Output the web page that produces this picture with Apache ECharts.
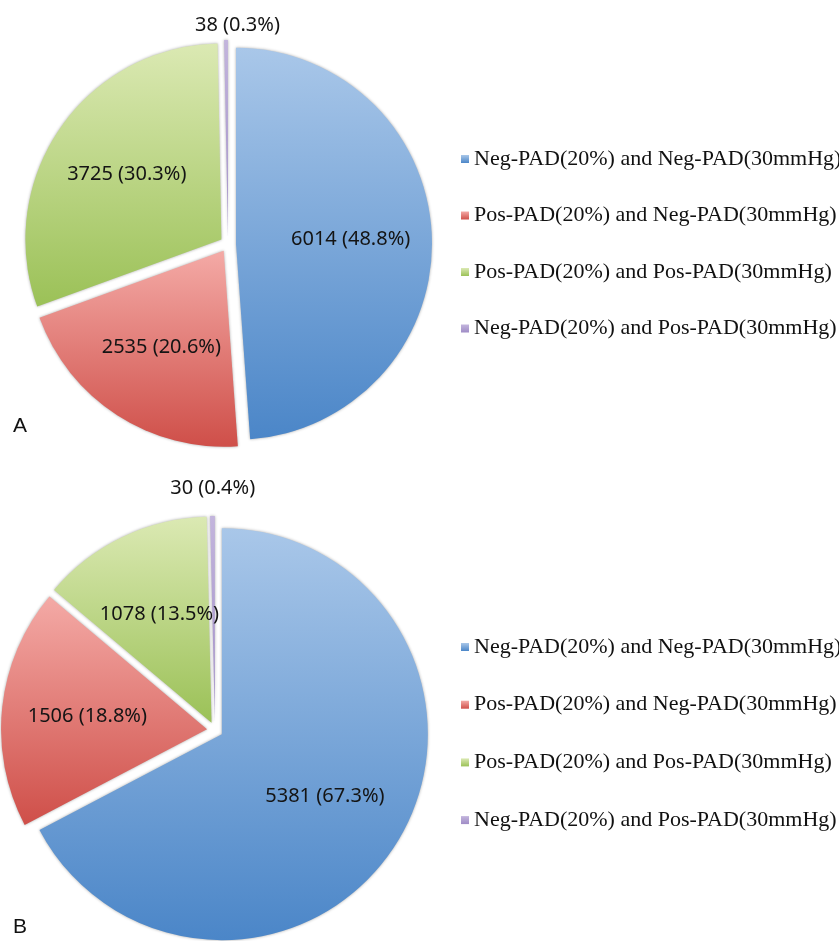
<!DOCTYPE html>
<html>
<head>
<meta charset="utf-8">
<script src="https://cdn.jsdelivr.net/npm/echarts@6/dist/echarts.min.js"></script>
<style>
html,body{margin:0;padding:0;background:#fff;}
#chart{width:839px;height:941px;}
</style>
</head>
<body>
<div id="chart"></div>
<script>
var categories = [
  'Neg-PAD(20%) and Neg-PAD(30mmHg)',
  'Pos-PAD(20%) and Neg-PAD(30mmHg)',
  'Pos-PAD(20%) and Pos-PAD(30mmHg)',
  'Neg-PAD(20%) and Pos-PAD(30mmHg)'
];
var valuesA = [6014, 2535, 3725, 38];
var valuesB = [5381, 1506, 1078, 30];
var panelLabels = ['A', 'B'];

var gradients = [
  ['#a9c7e9', '#4b86c8'],
  ['#f4aaa6', '#cf4f49'],
  ['#dbe9b3', '#9bc157'],
  ['#c3b5dd', '#9f8cc6']
];
var labelFont = {color: '#141414', fontFamily: 'Noto Sans', fontSize: 20, formatter: '{c} ({d}%)'};

function grad(i) {
  return {type:'linear', x:0, y:0, x2:0, y2:1,
    colorStops:[{offset:0, color:gradients[i][0]}, {offset:1, color:gradients[i][1]}]};
}
// visible slices; only the tiny slice carries its label (outside, above)
function buildData(vals, lineLen, shift) {
  return vals.map(function (v, i) {
    var item = {name: categories[i], value: v, selected: true,
      itemStyle: {color: grad(i)}};
    if (i === 3) {
      item.label = Object.assign({show: true, position: 'outside', padding: [0, -shift, 0, 0]}, labelFont);
      item.labelLine = {show: false, length: lineLen, length2: 0};
    }
    return item;
  });
}
// transparent overlay of the same values, used only to place inside labels further out
function buildLabelData(vals) {
  return vals.map(function (v, i) {
    return {name: categories[i], value: v, selected: true,
      label: {show: i !== 3}};
  });
}
function pieSeries(vals, center, radius, lineLen, shift) {
  return {
    type: 'pie', center: center, radius: radius,
    startAngle: 90, clockwise: true,
    selectedMode: 'multiple', selectedOffset: 8,
    percentPrecision: 1, avoidLabelOverlap: false,
    emphasis: {disabled: true},
    itemStyle: {shadowBlur: 3, shadowColor: 'rgba(0,0,0,0.35)'},
    label: {show: false},
    labelLine: {show: false},
    data: buildData(vals, lineLen, shift)
  };
}
function labelSeries(vals, center, radius) {
  return {
    type: 'pie', center: center, radius: radius * 1.14,
    startAngle: 90, clockwise: true, silent: true,
    selectedMode: 'multiple', selectedOffset: 8,
    percentPrecision: 1, avoidLabelOverlap: false,
    emphasis: {disabled: true},
    itemStyle: {color: 'rgba(0,0,0,0)'},
    label: Object.assign({position: 'inside'}, labelFont),
    labelLine: {show: false},
    data: buildLabelData(vals)
  };
}
function legend(top, gap) {
  return {
    data: categories, orient: 'vertical', left: 456, top: top,
    icon: 'rect', itemWidth: 8, itemHeight: 8, itemGap: gap,
    selectedMode: false,
    textStyle: {fontFamily: 'Liberation Serif', fontSize: 22, lineHeight: 22, color: '#111'}
  };
}
var centerA = [228, 244], radiusA = 196;
var centerB = [215, 730], radiusB = 206;
var chart = echarts.init(document.getElementById('chart'));
chart.setOption({
  animation: false,
  title: [
    {text: panelLabels[0], left: 8, top: 411, textStyle: {fontFamily: 'Liberation Sans', fontWeight: 'normal', fontSize: 21, color: '#111'}},
    {text: panelLabels[1], left: 8, top: 912, textStyle: {fontFamily: 'Liberation Sans', fontWeight: 'normal', fontSize: 21, color: '#111'}}
  ],
  legend: [legend(143, 34.5), legend(631, 35.7)],
  series: [
    pieSeries(valuesA, centerA, radiusA, 15, 59),
    pieSeries(valuesB, centerB, radiusB, 28, 48),
    labelSeries(valuesA, centerA, radiusA),
    labelSeries(valuesB, centerB, radiusB)
  ]
});
</script>
</body>
</html>
